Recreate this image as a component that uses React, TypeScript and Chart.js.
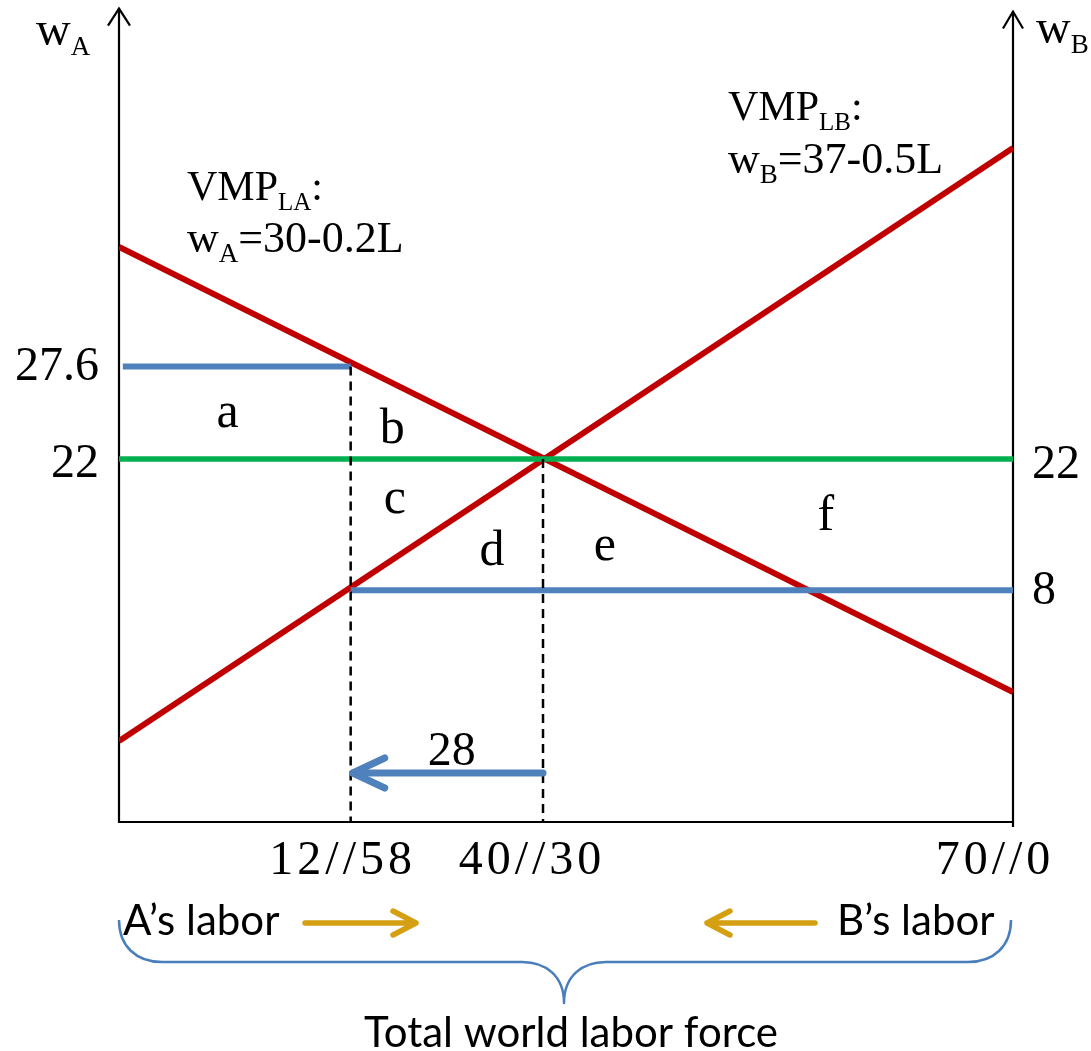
import React, { useEffect, useRef } from "react";
import { Chart, registerables } from "chart.js";

Chart.register(...registerables);

// ---- plot ranges (schematic diagram units) ----
const X_MIN = 0;
const X_MAX = 70;
const Y_MIN = 0;
const Y_MAX = 49.3;

// ---- data ----
const laborEnds = [0, 70];
const vmpA = [34.85, 7.88]; // VMP_LA line, left -> right
const vmpB = [4.91, 40.85]; // VMP_LB line, left -> right
const worldWage = 22;
const worldWageSpan = [0, 70.4];
const wageA0 = 27.6;
const wageA0Span = [0.3, 18.14];
const wageB0 = 14.04; // level labelled "8" on B's axis
const wageB0Span = [18.14, 70.2];
const laborA0 = 18.14; // labelled 12//58
const laborEq = 33.2; // labelled 40//30
const migrationY = 2.97;
const migrationSpan = [33.2, 18.3];

const xTickValues = [18.14, 33.2, 70];
const xTickLabels = ["12//58", "40//30", "70//0"];
const xTickShift = [-10, -13, -20];
const leftTickValues = [27.6, 22];
const leftTickLabels = ["27.6", "22"];
const leftTickDy = [13, 18];
const rightTickValues = [22, 14.04];
const rightTickLabels = ["22", "8"];
const rightTickDy = [19, 14];

const areaLetters = ["a", "b", "c", "d", "e", "f"];
const areaX = [8.5, 21.4, 21.6, 29.2, 38.05, 55.35];
const areaY = [23.94, 22.97, 18.73, 15.58, 15.88, 17.7];

const RED = "#C00000";
const BLUE = "#4F81BD";
const GREEN = "#00B050";
const GOLD = "#D4A012";
const BRACE = "#4A7EBB";
const SERIF = '"Liberation Serif", "DejaVu Serif", serif';
const SANS = 'Lato, "Open Sans", sans-serif';

function seg(xs: number[], ys: number[]) {
  return xs.map((x, i) => ({ x, y: ys[i] }));
}

const decorPlugin = {
  id: "decor",
  beforeDatasetsDraw(chart: any) {
    const { ctx, chartArea } = chart;
    const { left, right, top, bottom } = chartArea;
    ctx.save();
    ctx.strokeStyle = "#000";
    ctx.lineWidth = 2.2;
    ctx.lineCap = "butt";
    ctx.beginPath();
    ctx.moveTo(left, bottom + 1);
    ctx.lineTo(left, top);
    ctx.moveTo(left, bottom);
    ctx.lineTo(right, bottom);
    ctx.moveTo(right, bottom + 5);
    ctx.lineTo(right, top + 3);
    ctx.stroke();
    ctx.beginPath();
    ctx.moveTo(left - 11, top + 17);
    ctx.lineTo(left, top);
    ctx.lineTo(left + 11, top + 17);
    ctx.moveTo(right - 10, top + 20);
    ctx.lineTo(right, top + 3);
    ctx.lineTo(right + 10, top + 20);
    ctx.stroke();
    ctx.restore();
  },
  afterDatasetsDraw(chart: any) {
    const { ctx, chartArea, scales } = chart;
    const px = (v: number) => scales.x.getPixelForValue(v);
    const py = (v: number) => scales.y.getPixelForValue(v);
    ctx.save();

    // migration arrow head
    const tipX = px(migrationSpan[1]);
    const tipY = py(migrationY);
    ctx.strokeStyle = BLUE;
    ctx.lineWidth = 7;
    ctx.lineCap = "round";
    ctx.lineJoin = "round";
    ctx.beginPath();
    ctx.moveTo(tipX + 32, tipY - 15);
    ctx.lineTo(tipX, tipY);
    ctx.lineTo(tipX + 32, tipY + 15);
    ctx.stroke();

    ctx.fillStyle = "#000";
    // tick labels
    ctx.font = `48px ${SERIF}`;
    ctx.textBaseline = "alphabetic";
    ctx.textAlign = "right";
    leftTickValues.forEach((v, i) => {
      ctx.fillText(leftTickLabels[i], chartArea.left - 20, py(v) + leftTickDy[i]);
    });
    ctx.textAlign = "left";
    rightTickValues.forEach((v, i) => {
      ctx.fillText(rightTickLabels[i], chartArea.right + 19, py(v) + rightTickDy[i]);
    });
    ctx.textAlign = "center";
    (ctx as any).letterSpacing = "4px";
    xTickValues.forEach((v, i) => {
      ctx.fillText(xTickLabels[i], px(v) + xTickShift[i] + 2, chartArea.bottom + 52);
    });
    (ctx as any).letterSpacing = "0px";

    // "28" above the migration arrow
    ctx.fillText("28", (px(migrationSpan[0]) + px(migrationSpan[1])) / 2 + 4, tipY - 8);

    // area letters
    ctx.font = `50px ${SERIF}`;
    areaLetters.forEach((t, i) => {
      ctx.fillText(t, px(areaX[i]), py(areaY[i]));
    });

    // axis titles
    const sub = (
      parts: [string, boolean][],
      x: number,
      y: number,
      big: number,
      small: number
    ) => {
      let cx = x;
      ctx.textAlign = "left";
      parts.forEach(([s, isSub]) => {
        ctx.font = `${isSub ? small : big}px ${SERIF}`;
        ctx.fillText(s, cx, isSub ? y + 10 : y);
        cx += ctx.measureText(s).width;
      });
    };
    sub([["w", false], ["A", true]], 36, 45, 48, 27);
    sub([["w", false], ["B", true]], 1036, 43, 48, 27);

    // curve labels
    sub([["VMP", false], ["LA", true], [":", false]], 187, 200, 42, 25);
    sub([["w", false], ["A", true], ["=30-0.2L", false]], 187, 252, 44, 27);
    sub([["VMP", false], ["LB", true], [":", false]], 728, 120, 42, 25);
    sub([["w", false], ["B", true], ["=37-0.5L", false]], 728, 173, 44, 27);

    // bottom legend
    ctx.font = `42px ${SANS}`;
    ctx.textAlign = "left";
    ctx.fillText("A\u2019s labor", 123, 935);
    ctx.fillText("B\u2019s labor", 837, 935);
    ctx.textAlign = "center";
    ctx.fillText("Total world labor force", 571, 1047);

    ctx.strokeStyle = GOLD;
    ctx.lineWidth = 5.5;
    ctx.lineCap = "round";
    ctx.beginPath();
    ctx.moveTo(305, 923);
    ctx.lineTo(416, 923);
    ctx.moveTo(393, 911);
    ctx.lineTo(416, 923);
    ctx.lineTo(393, 935);
    ctx.moveTo(815, 923);
    ctx.lineTo(707, 923);
    ctx.moveTo(730, 911);
    ctx.lineTo(707, 923);
    ctx.lineTo(730, 935);
    ctx.stroke();

    // brace
    ctx.strokeStyle = BRACE;
    ctx.lineWidth = 2.5;
    ctx.lineCap = "butt";
    ctx.beginPath();
    ctx.moveTo(119, 920);
    ctx.bezierCurveTo(119, 946, 136, 962, 162, 962);
    ctx.lineTo(522, 962);
    ctx.bezierCurveTo(546, 962, 564, 976, 564, 1003);
    ctx.bezierCurveTo(564, 976, 582, 962, 606, 962);
    ctx.lineTo(968, 962);
    ctx.bezierCurveTo(994, 962, 1011, 946, 1011, 920);
    ctx.stroke();

    ctx.restore();
  },
};

export default function App() {
  const ref = useRef<HTMLCanvasElement | null>(null);

  useEffect(() => {
    if (!ref.current) return;
    const lineDs = (
      label: string,
      data: { x: number; y: number }[],
      color: string,
      width: number,
      order: number,
      dash: number[] = []
    ) => ({
      label,
      data,
      showLine: true,
      borderColor: color,
      backgroundColor: color,
      borderWidth: width,
      borderDash: dash,
      pointRadius: 0,
      pointHoverRadius: 0,
      fill: false,
      tension: 0,
      order,
    });

    const chart = new Chart(ref.current, {
      type: "scatter",
      data: {
        datasets: [
          lineDs("VMP_LA", seg(laborEnds, vmpA), RED, 6, 4),
          lineDs("VMP_LB", seg(laborEnds, vmpB), RED, 6, 4),
          lineDs("w_A before", seg(wageA0Span, [wageA0, wageA0]), BLUE, 6, 3),
          lineDs("w_B before", seg(wageB0Span, [wageB0, wageB0]), BLUE, 6, 3),
          lineDs("world wage", seg(worldWageSpan, [worldWage, worldWage]), GREEN, 5.5, 2),
          lineDs("L_A before", seg([laborA0, laborA0], [wageA0, 0]), "#000", 2.5, 1, [9, 6]),
          lineDs("L_A after", seg([laborEq, laborEq], [worldWage, 0]), "#000", 2.5, 1, [9, 6]),
          {
            ...lineDs("migration", seg(migrationSpan, [migrationY, migrationY]), BLUE, 7, 0),
            borderCapStyle: "round",
          },
        ],
      },
      options: {
        responsive: false,
        animation: false,
        devicePixelRatio: 1,
        events: [],
        layout: { padding: { left: 119, right: 78, top: 8.55, bottom: 229 } },
        plugins: {
          legend: { display: false },
          tooltip: { enabled: false },
        },
        scales: {
          x: { type: "linear", min: X_MIN, max: X_MAX, display: false },
          y: { type: "linear", min: Y_MIN, max: Y_MAX, display: false },
        },
      },
      plugins: [decorPlugin],
    } as any);
    return () => chart.destroy();
  }, []);

  return (
    <div style={{ position: "absolute", left: 0, top: 0, width: 1091, height: 1051, background: "#fff" }}>
      <canvas ref={ref} width={1091} height={1051} style={{ display: "block" }} />
    </div>
  );
}
